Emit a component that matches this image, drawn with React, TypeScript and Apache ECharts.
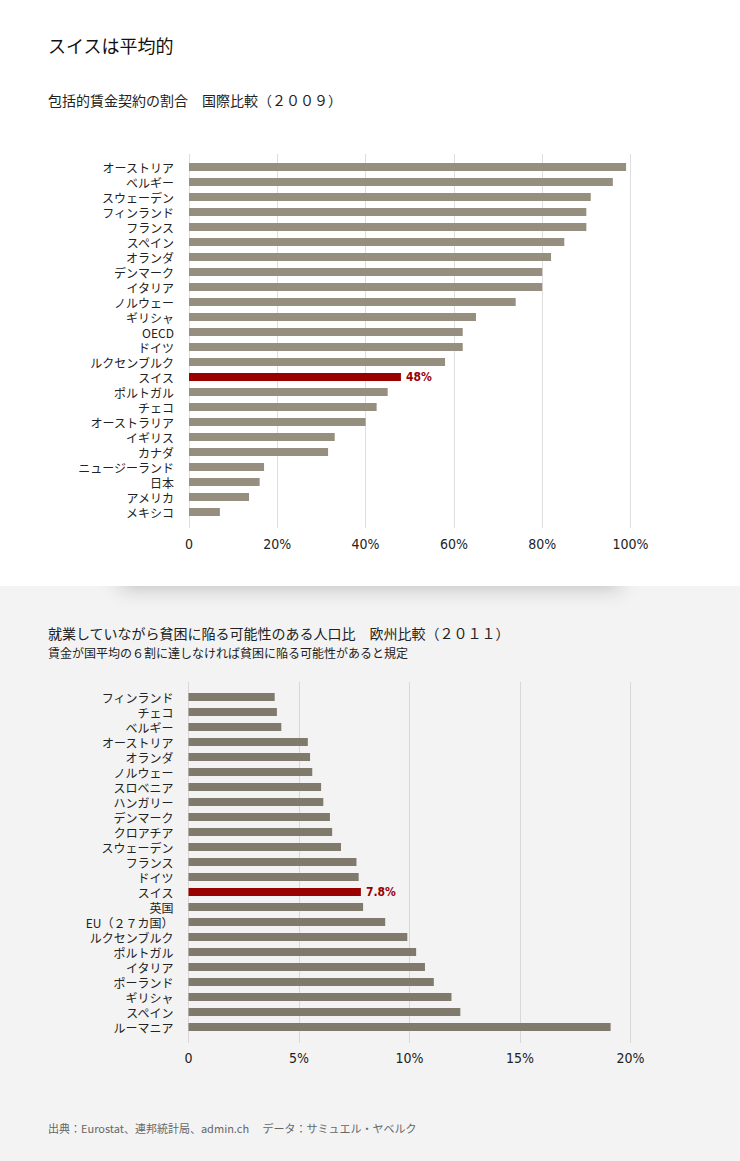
import React, { useEffect, useRef } from "react";
import * as echarts from "echarts";

const topCategories = ["オーストリア", "ベルギー", "スウェーデン", "フィンランド", "フランス", "スペイン", "オランダ", "デンマーク", "イタリア", "ノルウェー", "ギリシャ", "OECD", "ドイツ", "ルクセンブルク", "スイス", "ポルトガル", "チェコ", "オーストラリア", "イギリス", "カナダ", "ニュージーランド", "日本", "アメリカ", "メキシコ"];
const topValues = [99, 96, 91, 90, 90, 85, 82, 80, 80, 74, 65, 62, 62, 58, 48, 45, 42.5, 40, 33, 31.5, 17, 16, 13.6, 7];
const topTicks = [0, 20, 40, 60, 80, 100];

const bottomCategories = ["フィンランド", "チェコ", "ベルギー", "オーストリア", "オランダ", "ノルウェー", "スロベニア", "ハンガリー", "デンマーク", "クロアチア", "スウェーデン", "フランス", "ドイツ", "スイス", "英国", "EU（２７カ国）", "ルクセンブルク", "ポルトガル", "イタリア", "ポーランド", "ギリシャ", "スペイン", "ルーマニア"];
const bottomValues = [3.9, 4.0, 4.2, 5.4, 5.5, 5.6, 6.0, 6.1, 6.4, 6.5, 6.9, 7.6, 7.7, 7.8, 7.9, 8.9, 9.9, 10.3, 10.7, 11.1, 11.9, 12.3, 19.1];
const bottomTicks = [0, 5, 10, 15, 20];

const highlight = "スイス";

const TITLE = "スイスは平均的";
const TOP_SUB = "包括的賃金契約の割合　国際比較（２００９）";
const BOTTOM_TITLE = "就業していながら貧困に陥る可能性のある人口比　欧州比較（２０１１）";
const BOTTOM_NOTE = "賃金が国平均の６割に達しなければ貧困に陥る可能性があると規定";
const FOOTER = "出典：Eurostat、連邦統計局、admin.ch　 データ：サミュエル・ヤベルク";

const JP = "'Noto Sans CJK JP', 'Noto Sans', sans-serif";
const COND = "'DejaVu Sans Condensed', 'Roboto', sans-serif";

export default function App() {
  const ref = useRef<HTMLDivElement>(null);
  useEffect(() => {
    document.body.style.margin = "0";
    const chart = echarts.init(ref.current!, undefined, { renderer: "svg" });

    const makeData = (cats: string[], vals: number[], base: string, fmt: (v: number) => string) =>
      vals.map((v, i) =>
        cats[i] === highlight
          ? {
              value: v,
              itemStyle: { color: "#990000" },
              label: {
                show: true,
                position: "right",
                distance: 5,
                formatter: fmt(v),
                color: "#990000",
                fontSize: 12,
                fontWeight: "bold",
                fontFamily: COND,
              },
            }
          : { value: v, itemStyle: { color: base } }
      );

    const catAxisLabel = { fontSize: 12, color: "#222", fontFamily: JP, margin: 15, interval: 0 };
    const valFmt = (v: number) => (v === 0 ? "0" : v + "%");

    chart.setOption({
      animation: false,
      graphic: {
        elements: [
          { type: "rect", z: -30, shape: { x: 0, y: 0, width: 740, height: 1161 }, style: { fill: "#f3f3f3" } },
          {
            type: "rect",
            z: -20,
            shape: { x: 120, y: 560, width: 500, height: 24 },
            style: { fill: "#fff", shadowBlur: 20, shadowColor: "rgba(0,0,0,0.22)", shadowOffsetY: 4 },
          },
          { type: "rect", z: -10, shape: { x: 0, y: 0, width: 740, height: 586 }, style: { fill: "#ffffff" } },
          { type: "text", z: 10, x: 48, y: 45, style: { text: TITLE, fontSize: 18, fill: "#111", fontFamily: JP, verticalAlign: "middle" } },
          { type: "text", z: 10, x: 48, y: 100, style: { text: TOP_SUB, fontSize: 14, fill: "#222", fontFamily: JP, verticalAlign: "middle" } },
          { type: "text", z: 10, x: 48, y: 633, style: { text: BOTTOM_TITLE, fontSize: 14, fill: "#222", fontFamily: JP, verticalAlign: "middle" } },
          { type: "text", z: 10, x: 48, y: 652, style: { text: BOTTOM_NOTE, fontSize: 12, fill: "#222", fontFamily: JP, verticalAlign: "middle" } },
          { type: "text", z: 10, x: 48, y: 1128, style: { text: FOOTER, fontSize: 11, fill: "#666", fontFamily: JP, verticalAlign: "middle" } },
        ],
      },
      grid: [
        { left: 189, width: 441.5, top: 159.5, height: 360 },
        { left: 189, width: 441.5, top: 154, height: 374 },
        { left: 188.5, width: 442, top: 689.5, height: 345 },
        { left: 188.5, width: 442, top: 682, height: 361 },
      ],
      xAxis: [
        { gridIndex: 0, type: "value", min: 0, max: 100, show: false },
        {
          gridIndex: 1,
          type: "value",
          min: 0,
          max: 100,
          interval: 20,
          axisLine: { show: false },
          axisTick: { show: false },
          splitLine: { show: true, lineStyle: { color: "#dedede", width: 1 } },
          axisLabel: { fontSize: 14, color: "#222", fontFamily: COND, margin: 9, formatter: valFmt },
        },
        { gridIndex: 2, type: "value", min: 0, max: 20, show: false },
        {
          gridIndex: 3,
          type: "value",
          min: 0,
          max: 20,
          interval: 5,
          axisLine: { show: false },
          axisTick: { show: false },
          splitLine: { show: true, lineStyle: { color: "#d8d8d8", width: 1 } },
          axisLabel: { fontSize: 14, color: "#222", fontFamily: COND, margin: 8, formatter: valFmt },
        },
      ],
      yAxis: [
        {
          gridIndex: 0,
          type: "category",
          inverse: true,
          data: topCategories,
          axisLine: { show: false },
          axisTick: { show: false },
          axisLabel: catAxisLabel,
        },
        { gridIndex: 1, type: "value", show: false, splitLine: { show: false } },
        {
          gridIndex: 2,
          type: "category",
          inverse: true,
          data: bottomCategories,
          axisLine: { show: false },
          axisTick: { show: false },
          axisLabel: catAxisLabel,
        },
        { gridIndex: 3, type: "value", show: false, splitLine: { show: false } },
      ],
      series: [
        {
          type: "bar",
          xAxisIndex: 0,
          yAxisIndex: 0,
          barWidth: 8,
          z: 5,
          data: makeData(topCategories, topValues, "#968f7f", (v) => v + "%"),
        },
        {
          type: "bar",
          xAxisIndex: 2,
          yAxisIndex: 2,
          barWidth: 8,
          z: 5,
          data: makeData(bottomCategories, bottomValues, "#807a6c", (v) => v.toFixed(1) + "%"),
        },
      ],
    });
    return () => chart.dispose();
  }, []);
  return <div ref={ref} style={{ width: 740, height: 1161 }} />;
}
